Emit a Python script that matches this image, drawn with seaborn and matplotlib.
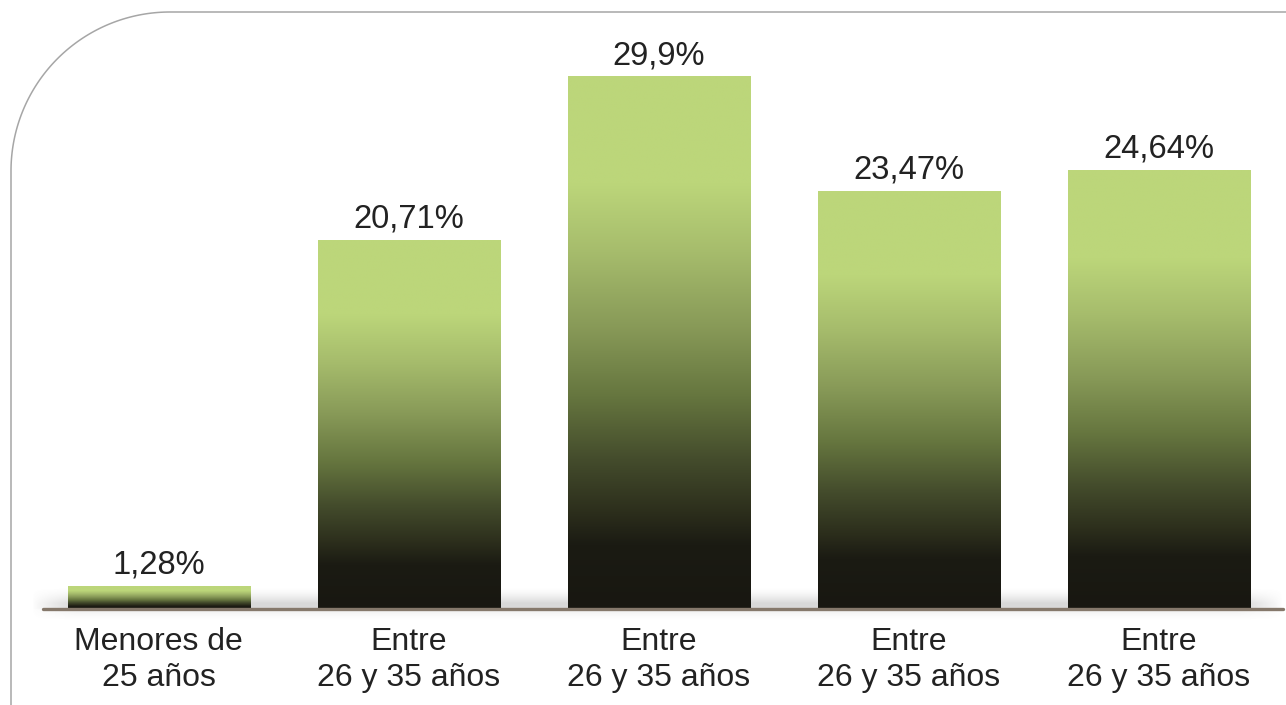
import numpy as np
import pandas as pd
import matplotlib
matplotlib.use("Agg")
import matplotlib.pyplot as plt
import seaborn as sns
from matplotlib.colors import LinearSegmentedColormap
from matplotlib.lines import Line2D

# ---- data ----
categories = ["Menores de\n25 años", "Entre\n26 y 35 años", "Entre \n26 y 35 años",
              "Entre  \n26 y 35 años", "Entre   \n26 y 35 años"]
tick_labels = ["Menores de\n25 años", "Entre\n26 y 35 años", "Entre\n26 y 35 años",
               "Entre\n26 y 35 años", "Entre\n26 y 35 años"]
values = [1.28, 20.71, 29.9, 23.47, 24.64]
value_labels = ["1,28%", "20,71%", "29,9%", "23,47%", "24,64%"]

df = pd.DataFrame({"cat": categories, "val": values})

sns.set_theme(style="white")
plt.rcParams["font.family"] = ["Liberation Sans", "DejaVu Sans"]

W, H = 1286, 705
fig = plt.figure(figsize=(W / 100, H / 100), dpi=100)
ax = fig.add_axes([43 / W, (H - 609) / H, (1283 - 43) / W, 609 / H])

sns.barplot(data=df, x="cat", y="val", ax=ax, width=0.728, color="#bcd67a",
            saturation=1, errorbar=None, zorder=3)

XL = (-0.462, 4.496)
ax.set_xlim(*XL)
ax.set_ylim(0, 609 / 17.8)

# gradient for each bar
grad = LinearSegmentedColormap.from_list("g", [
    (0.0, "#bcd67a"), (0.2, "#bcd67a"), (0.33, "#a6bc6c"), (0.47, "#889a58"),
    (0.6, "#66763f"), (0.72, "#444c2c"), (0.82, "#2c2e1c"), (0.88, "#1b1b13"),
    (1.0, "#181711")])
gimg = np.linspace(0, 1, 256).reshape(-1, 1)
for p in ax.patches:
    x0, y0 = p.get_x(), p.get_y()
    w, h = p.get_width(), p.get_height()
    p.set_facecolor("none")
    p.set_edgecolor("none")
    ax.imshow(gimg, cmap=grad, aspect="auto", extent=(x0, x0 + w, y0, y0 + h),
              origin="upper", zorder=3, interpolation="bilinear")

# soft shadow band around the baseline
ny, nx = 80, 500
ypx = np.linspace(587, 621, ny).reshape(-1, 1)   # pixel rows (top -> bottom)
xs = np.linspace(0, 1, nx).reshape(1, -1)
up = np.clip((ypx - 587) / 16, 0, 1) ** 1.6
down = np.clip(1 - (ypx - 609) / 12, 0, 1) ** 1.5 * 0.45
prof = np.where(ypx <= 609, up, down)
edge = np.clip(np.minimum(xs, 1 - xs) / 0.035, 0, 1) ** 0.8
img = np.zeros((ny, nx, 4))
img[..., :3] = 0.5
img[..., 3] = prof * edge * 0.30
ppu = 17.8
x_left = XL[0] - 12 / 250.1
ax.imshow(img, aspect="auto",
          extent=(x_left, XL[1], -(621 - 609) / ppu, (609 - 587) / ppu),
          origin="upper", zorder=1, interpolation="bilinear", clip_on=False)
ax.set_xlim(*XL)
ax.set_ylim(0, 609 / 17.8)

# baseline
ax.axhline(0, color="#85786b", lw=2.4, zorder=5, clip_on=False)

for s in ax.spines.values():
    s.set_visible(False)
ax.set_yticks([])
ax.set_xlabel("")
ax.set_ylabel("")
ax.set_xticks(range(len(tick_labels)))
ax.set_xticklabels(tick_labels, fontsize=23, color="#222222", linespacing=1.25)
ax.tick_params(axis="x", length=0, pad=13)

for i, (v, lab) in enumerate(zip(values, value_labels)):
    ax.annotate(lab, (i, v), xytext=(0, 9), textcoords="offset points",
                ha="center", va="baseline", fontsize=23.6, color="#222222", zorder=6)

# rounded frame at top-left
r = 159
cx, cy = 11 + r, 12 + r
theta = np.linspace(np.pi, 1.5 * np.pi, 80)
arc_x = cx + r * np.cos(theta)
arc_y = cy + r * np.sin(theta)
px = np.concatenate([[11], arc_x, [W]])
py = np.concatenate([[H], arc_y, [12]])
fig.add_artist(Line2D(px / W, 1 - py / H, transform=fig.transFigure,
                      color="#a6a6a6", lw=1.1))

fig.savefig("out.png", dpi=100)
